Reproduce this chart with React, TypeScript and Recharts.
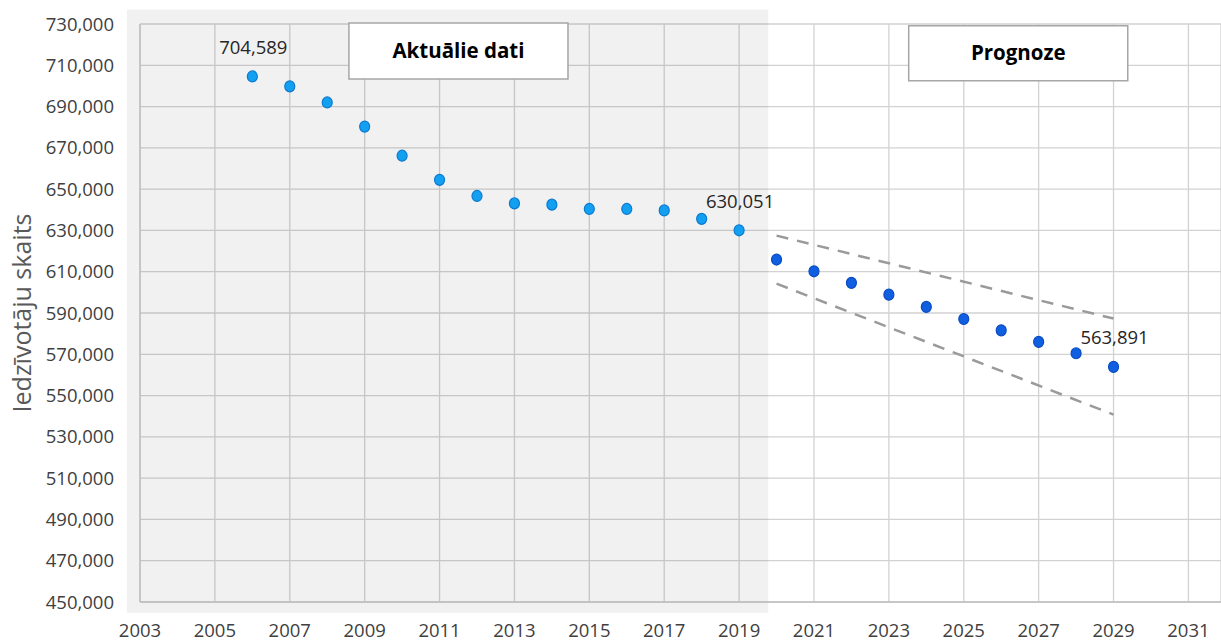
import React from 'react';
import {
  ComposedChart,
  Scatter,
  Line,
  XAxis,
  YAxis,
  CartesianGrid,
  ReferenceArea,
} from 'recharts';

const ACTUAL_YEARS = [2006, 2007, 2008, 2009, 2010, 2011, 2012, 2013, 2014, 2015, 2016, 2017, 2018, 2019];
const ACTUAL_POP = [704589, 699800, 692000, 680300, 666200, 654500, 646700, 643100, 642500, 640400, 640400, 639700, 635600, 630051];

const FORECAST_YEARS = [2020, 2021, 2022, 2023, 2024, 2025, 2026, 2027, 2028, 2029];
const FORECAST_POP = [615900, 610200, 604600, 598900, 592950, 587100, 581600, 576000, 570500, 563891];

const LABELLED_YEARS = [2006, 2019, 2029];

const BAND_YEARS = [2020, 2029];
const BAND_UPPER = [627500, 587300];
const BAND_LOWER = [604200, 540800];

const X_TICKS = [2003, 2005, 2007, 2009, 2011, 2013, 2015, 2017, 2019, 2021, 2023, 2025, 2027, 2029, 2031];
const Y_TICKS = [450000, 470000, 490000, 510000, 530000, 550000, 570000, 590000, 610000, 630000, 650000, 670000, 690000, 710000, 730000];

const FONT = "'Open Sans', sans-serif";
const fmt = (v: number) => v.toLocaleString('en-US');

const toPoints = (years: number[], values: number[]) =>
  years.map((year, i) => ({
    year,
    value: values[i],
    label: LABELLED_YEARS.includes(year) ? fmt(values[i]) : undefined,
  }));

const actual = toPoints(ACTUAL_YEARS, ACTUAL_POP);
const forecast = toPoints(FORECAST_YEARS, FORECAST_POP);
const upper = BAND_YEARS.map((year, i) => ({ year, value: BAND_UPPER[i] }));
const lower = BAND_YEARS.map((year, i) => ({ year, value: BAND_LOWER[i] }));

const makeDot = (fill: string, stroke: string) => (props: any) => {
  const { cx, cy, payload } = props;
  return (
    <g>
      <ellipse cx={cx} cy={cy} rx={5} ry={5.5} fill={fill} stroke={stroke} strokeWidth={1.2} />
      {payload.label && (
        <text x={cx + 1} y={cy - 30} textAnchor="middle" dominantBaseline="central" fontSize={18.5} fontFamily={FONT} fill="#262626">
          {payload.label}
        </text>
      )}
    </g>
  );
};

export default function App() {
  return (
    <div style={{ position: 'absolute', left: 0, top: 0, background: '#fff' }}>
      <ComposedChart width={1221} height={644} margin={{ top: 24, right: 0, bottom: 0, left: 0 }}>
        <ReferenceArea
          x1={2002.65}
          x2={2019.78}
          y1={444800}
          y2={737000}
          ifOverflow="visible"
          fill="#000"
          fillOpacity={0.055}
          stroke="none"
        />
        <CartesianGrid stroke="#d2d2d2" strokeWidth={1.3} />
        <XAxis
          dataKey="year"
          type="number"
          domain={[2003, 2031.87]}
          ticks={X_TICKS}
          allowDataOverflow
          height={42}
          tickLine={false}
          tickSize={0}
          tickMargin={22}
          axisLine={{ stroke: '#bfbfbf', strokeWidth: 1.3 }}
          tick={{ fill: '#404040', fontSize: 18.5, fontFamily: FONT }}
        />
        <YAxis
          type="number"
          domain={[450000, 730000]}
          ticks={Y_TICKS}
          width={140}
          tickLine={false}
          tickSize={0}
          tickMargin={26}
          tickFormatter={fmt}
          axisLine={{ stroke: '#bfbfbf', strokeWidth: 1.3 }}
          tick={{ fill: '#404040', fontSize: 18.5, fontFamily: FONT }}
          label={{
            value: 'Iedzīvotāju skaits',
            angle: -90,
            position: 'center',
            dx: -48,
            fill: '#595959',
            fontSize: 25,
            fontFamily: FONT,
          }}
        />
        <ReferenceArea
          x1={2008.58}
          x2={2014.43}
          y1={703340}
          y2={730500}
          ifOverflow="visible"
          fill="#fff"
          fillOpacity={1}
          stroke="#a6a6a6"
          strokeWidth={1.5}
          label={{ value: 'Aktuālie dati', position: 'center', fill: '#000', fontSize: 20.5, fontWeight: 700, fontFamily: FONT }}
        />
        <ReferenceArea
          x1={2023.53}
          x2={2029.38}
          y1={702520}
          y2={729180}
          ifOverflow="visible"
          fill="#fff"
          fillOpacity={1}
          stroke="#a6a6a6"
          strokeWidth={1.5}
          label={{ value: 'Prognoze', position: 'center', fill: '#000', fontSize: 20.5, fontWeight: 700, fontFamily: FONT }}
        />
        <Line data={upper} dataKey="value" stroke="#9a9a9a" strokeWidth={2.5} strokeDasharray="12 9" dot={false} isAnimationActive={false} />
        <Line data={lower} dataKey="value" stroke="#9a9a9a" strokeWidth={2.5} strokeDasharray="12 9" dot={false} isAnimationActive={false} />
        <Scatter data={actual} dataKey="value" shape={makeDot('#14a0f0', '#0b7ad2')} isAnimationActive={false} />
        <Scatter data={forecast} dataKey="value" shape={makeDot('#105fe0', '#0a4cc2')} isAnimationActive={false} />
      </ComposedChart>
    </div>
  );
}
